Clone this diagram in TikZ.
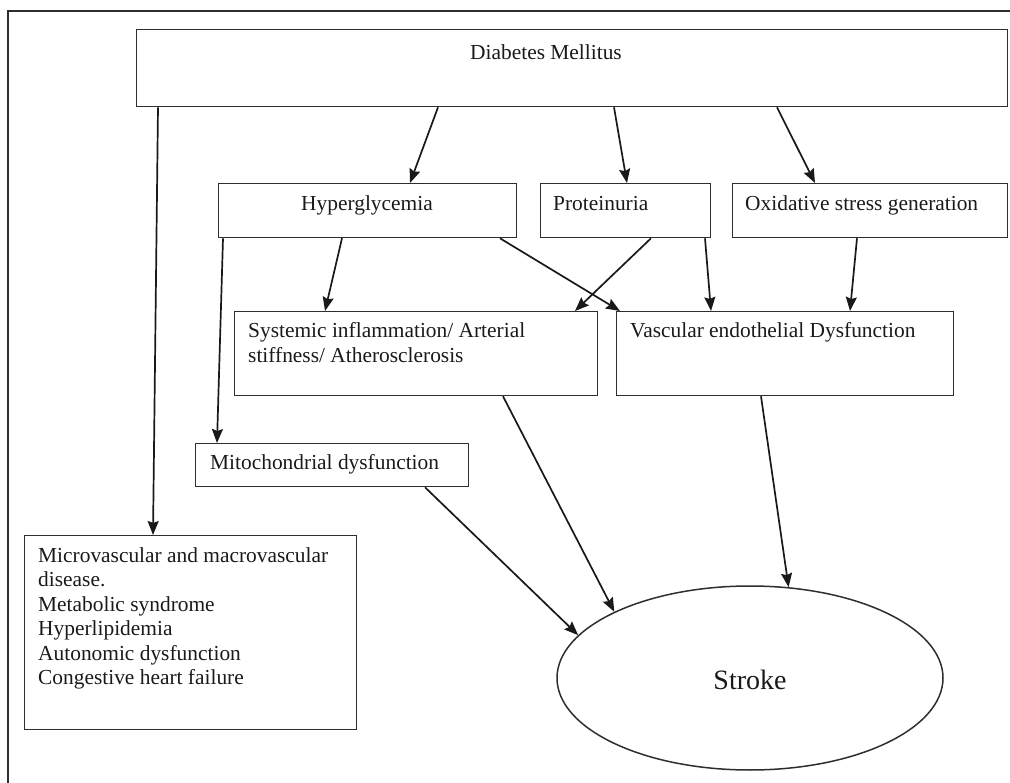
\documentclass[tikz,border=0pt]{standalone}
\usepackage{fontspec}
\setmainfont{Liberation Serif}
\usetikzlibrary{arrows.meta,shapes.geometric}
\definecolor{ink}{HTML}{1A1A1A}
\definecolor{edge}{HTML}{2E2E2E}
\tikzset{
  every node/.style={font=\fontsize{21.4}{24.5}\selectfont, text=ink},
  box/.style={draw=edge, line width=1.3pt, inner sep=0pt, anchor=north west},
  txt/.style={inner sep=0pt, anchor=base west},
  conn/.style={draw=black!90, line width=1.7pt, -{Stealth[length=14pt,width=11pt,inset=2pt]}},
  frameline/.style={draw=edge, line width=2pt}
}
\begin{document}
\begin{tikzpicture}[x=1pt,y=-1pt]
\useasboundingbox (0,0) rectangle (1010,783);
\draw[frameline] (8,783) -- (8,11) -- (1010,11);

% boxes
\node[box, minimum width=871pt, minimum height=77pt] (dm) at (136,29) {};
\node[box, minimum width=298pt, minimum height=54pt] (hyp) at (218,183) {};
\node[box, minimum width=170pt, minimum height=54pt] (prot) at (540,183) {};
\node[box, minimum width=275pt, minimum height=54pt] (oxi) at (732,183) {};
\node[box, minimum width=363pt, minimum height=84pt] (sys) at (234,311) {};
\node[box, minimum width=337pt, minimum height=84pt] (ved) at (616,311) {};
\node[box, minimum width=273pt, minimum height=43pt] (mito) at (195,443) {};
\node[box, minimum width=332pt, minimum height=194pt] (comp) at (24,535) {};
\node[ellipse, draw=edge, line width=1.5pt, inner sep=0pt,
      minimum width=386pt, minimum height=184pt] (stroke) at (750,678) {};

% texts
\node[txt] (dmT) at (470,60) {Diabetes Mellitus};
\node[txt, anchor=base] (hypT) at (367,211) {Hyperglycemia};
\node[txt] (protT) at (553,211) {Proteinuria};
\node[txt] (oxiT) at (745,211) {Oxidative stress generation};
\node[txt] (sysT) at (248,338) {\begin{tabular}[t]{@{}l@{}}Systemic inflammation/ Arterial\\ stiffness/ Atherosclerosis\end{tabular}};
\node[txt] (vedT) at (630,338) {Vascular endothelial Dysfunction};
\node[txt] (mitoT) at (210,470) {Mitochondrial dysfunction};
\node[txt] (compT) at (38,562) {\begin{tabular}[t]{@{}l@{}}Microvascular and macrovascular\\ disease.\\ Metabolic syndrome\\ Hyperlipidemia\\ Autonomic dysfunction\\ Congestive heart failure\end{tabular}};
\node[inner sep=0pt, anchor=base, font=\fontsize{28}{32}\selectfont] (strokeT) at (750,689) {Stroke};

% connectors
\draw[conn] ([xshift=22pt]dm.south west) -- ([xshift=129pt]comp.north west);
\draw[conn] ([xshift=302pt]dm.south west) -- ([xshift=192pt]hyp.north west);
\draw[conn] ([xshift=478pt]dm.south west) -- ([xshift=87pt]prot.north west);
\draw[conn] ([xshift=641pt]dm.south west) -- ([xshift=83pt]oxi.north west);
\draw[conn] ([xshift=5pt]hyp.south west) -- ([xshift=22pt]mito.north west);
\draw[conn] ([xshift=124pt]hyp.south west) -- ([xshift=91pt]sys.north west);
\draw[conn] ([xshift=282pt]hyp.south west) -- ([xshift=4pt]ved.north west);
\draw[conn] ([xshift=111pt]prot.south west) -- ([xshift=341pt]sys.north west);
\draw[conn] ([xshift=165pt]prot.south west) -- ([xshift=95pt]ved.north west);
\draw[conn] ([xshift=125pt]oxi.south west) -- ([xshift=234pt]ved.north west);
\draw[conn] ([xshift=230pt]mito.south west) -- (stroke.166.4);
\draw[conn] ([xshift=269pt]sys.south west) -- (stroke.154.6);
\draw[conn] ([xshift=145pt]ved.south west) -- (stroke.67.7);
\end{tikzpicture}
\end{document}
